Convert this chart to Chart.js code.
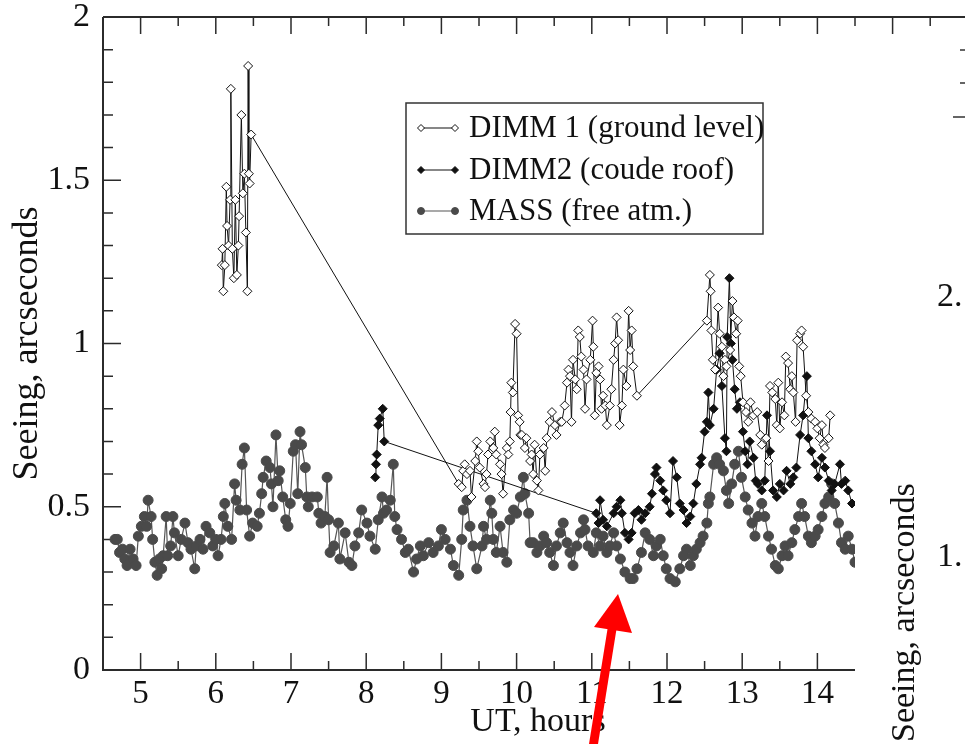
<!DOCTYPE html>
<html>
<head>
<meta charset="utf-8">
<script src="https://cdn.jsdelivr.net/npm/chart.js@4/dist/chart.umd.min.js"></script>
<style>
body{margin:0;background:#fff;}
canvas{display:block;}
</style>
</head>
<body>
<canvas id="seeingChart" width="965" height="744"></canvas>
<script>

// tick labels
const xTicks = [5,6,7,8,9,10,11,12,13,14];
const yTicks = [0,0.5,1,1.5,2];
const yTickLabels = ["0","0.5","1","1.5","2"];

const seriesNames = [
"DIMM 1 (ground level)",
"DIMM2 (coude roof)",
"MASS (free atm.)"
];

// DIMM 1, ground level (UT hours / arcsec)
const dimm1T = [
6.08,6.09,6.10,6.12,6.14,6.15,6.17,6.19,6.20,6.22,6.24,6.26,6.28,6.30,6.31,6.34,6.36,6.38,6.40,6.42,6.43,6.44,6.45,6.47,
9.23,9.27,9.29,9.31,9.34,9.38,9.40,9.45,9.47,9.49,9.51,9.56,9.58,9.60,9.62,9.65,9.69,9.71,9.73,9.78,9.80,9.82,9.87,9.89,9.91,9.92,9.93,9.95,9.98,10.00,
10.02,10.04,10.05,10.07,10.11,10.13,10.18,10.20,10.22,10.24,10.27,10.29,10.31,10.36,10.38,10.40,10.44,10.47,10.51,10.53,10.58,10.60,10.64,10.67,10.69,10.71,
10.73,10.75,10.78,10.80,10.82,10.84,10.86,10.89,10.91,10.93,10.98,11.01,11.02,11.04,11.06,11.09,11.11,11.13,11.15,11.18,11.20,11.24,11.26,11.29,11.31,11.33,
11.35,11.37,11.40,11.42,11.46,11.49,11.51,11.53,11.55,11.60,
12.53,12.57,12.58,12.59,12.61,12.64,12.68,12.70,12.73,12.75,12.77,12.79,12.84,12.87,12.89,12.92,12.94,12.96,12.98,13.01,13.05,13.08,13.11,13.15,13.20,
13.24,13.26,13.32,13.35,13.37,13.40,13.44,13.46,13.48,13.50,13.53,13.56,13.58,13.61,13.64,13.66,13.68,13.71,13.73,13.77,13.79,13.81,13.85,13.88,13.92,
13.97,14.00,14.03,14.06,14.08,14.10,14.15,14.17
];
const dimm1V = [
1.24,1.29,1.16,1.24,1.48,1.36,1.30,1.44,1.78,1.29,1.20,1.44,1.21,1.30,1.39,1.70,1.46,1.52,1.34,1.16,1.85,1.52,1.49,1.64,
0.57,0.56,0.61,0.63,0.60,0.61,0.53,0.64,0.70,0.67,0.62,0.57,0.56,0.60,0.66,0.70,0.68,0.73,0.66,0.63,0.60,0.54,0.68,0.66,0.70,0.79,0.88,0.85,1.06,1.03,
0.78,0.76,0.72,0.72,0.68,0.71,0.64,0.66,0.60,0.69,0.58,0.55,0.66,0.68,0.61,0.71,0.76,0.79,0.75,0.72,0.76,0.76,0.81,0.88,0.92,0.90,
0.76,0.95,0.89,0.86,1.04,1.02,0.96,0.92,0.80,0.89,0.95,1.07,0.99,0.78,0.91,0.93,0.89,0.80,0.84,0.81,0.75,0.81,0.86,0.95,1.00,1.08,
1.01,0.75,0.81,0.92,0.87,1.10,0.98,1.04,0.93,0.84,
1.07,1.21,1.16,1.04,0.95,0.92,1.11,1.03,0.99,0.90,0.95,0.93,0.98,1.13,1.08,1.03,1.07,0.93,0.90,0.82,0.79,0.76,0.82,0.78,0.79,
0.72,0.69,0.71,0.64,0.87,0.85,0.83,0.75,0.88,0.74,0.82,0.78,0.96,0.94,0.86,0.90,0.85,0.76,1.01,1.03,1.04,0.99,0.84,0.79,0.77,
0.76,0.74,0.71,0.75,0.69,0.68,0.71,0.78
];

// DIMM2, coude roof
const dimm2T = [
8.12,8.13,8.14,8.16,8.18,8.22,8.24,
11.06,11.09,11.11,11.15,11.20,11.29,11.33,11.38,11.40,11.44,11.49,11.53,11.57,11.62,11.66,11.71,11.77,11.80,11.84,11.86,11.91,11.95,11.99,
12.04,12.08,12.13,12.17,12.22,12.26,12.31,12.35,12.39,12.44,12.46,12.50,12.53,12.55,12.57,12.62,12.66,12.70,12.73,12.77,12.79,12.80,12.83,12.85,12.87,
12.90,12.93,12.97,13.01,13.04,13.07,13.10,13.15,13.18,13.21,13.26,13.30,13.33,13.37,13.41,13.46,13.50,13.55,13.59,13.64,13.68,13.72,13.77,13.81,13.86,
13.88,13.92,13.97,14.01,14.06,14.10,14.15,14.19,14.23,14.30,14.32,14.37,14.41,14.46
];
const dimm2V = [
0.59,0.63,0.66,0.75,0.77,0.80,0.70,
0.48,0.45,0.52,0.46,0.44,0.48,0.50,0.52,0.48,0.42,0.40,0.42,0.48,0.49,0.46,0.48,0.50,0.54,0.60,0.62,0.58,0.55,0.52,
0.48,0.64,0.59,0.51,0.49,0.45,0.47,0.51,0.57,0.63,0.65,0.73,0.76,0.85,0.75,0.80,0.92,0.97,0.87,0.71,0.67,1.02,1.20,1.00,0.95,
0.86,0.80,0.82,0.73,0.67,0.63,0.70,0.65,0.58,0.57,0.55,0.58,0.78,0.67,0.55,0.53,0.57,0.55,0.61,0.57,0.59,0.62,0.72,0.78,0.90,
0.71,0.67,0.63,0.59,0.65,0.62,0.58,0.55,0.57,0.63,0.57,0.58,0.55,0.51
];

// MASS, free atmosphere
const massT = [
4.66,4.69,4.72,4.76,4.79,4.82,4.86,4.90,4.94,4.97,5.01,5.05,5.08,5.10,5.14,5.16,5.19,5.22,5.25,5.28,5.30,5.34,5.36,5.40,5.43,5.45,5.50,5.54,5.59,5.63,
5.67,5.72,5.74,5.79,5.83,5.87,5.92,5.96,6.00,6.03,6.07,6.10,6.12,6.16,6.21,6.25,6.27,6.32,6.35,6.38,6.41,6.45,6.49,6.55,6.58,6.61,6.63,6.67,6.72,6.74,
6.76,6.80,6.83,6.85,6.89,6.93,6.96,6.99,7.03,7.06,7.09,7.12,7.14,7.19,7.21,7.23,7.28,7.35,7.37,7.40,7.45,7.48,7.50,7.52,7.57,7.63,7.65,7.72,7.77,7.81,
7.85,7.90,7.94,8.01,8.05,8.12,8.16,8.21,8.23,8.27,8.32,8.36,8.38,8.41,8.47,8.52,8.56,8.63,8.67,8.72,8.76,8.83,8.89,8.96,9.00,9.05,9.12,9.16,9.23,9.27,
9.29,9.34,9.38,9.42,9.47,9.54,9.56,9.60,9.65,9.67,9.69,9.73,9.78,9.82,9.87,9.91,9.96,10.00,10.05,10.09,10.11,10.16,10.18,10.22,10.27,10.31,10.36,10.40,10.44,10.49,
10.53,10.58,10.62,10.67,10.71,10.75,10.80,10.85,10.89,10.91,10.95,11.02,11.06,11.11,11.15,11.20,11.24,11.29,11.33,11.38,11.44,11.51,11.55,11.60,11.66,11.71,11.77,11.82,11.86,11.91,
11.95,11.99,12.04,12.11,12.17,12.22,12.26,12.31,12.35,12.39,12.44,12.48,12.53,12.55,12.57,12.62,12.66,12.70,12.75,12.79,12.82,12.86,12.90,12.95,12.99,13.04,13.08,13.13,13.17,13.21,
13.26,13.30,13.35,13.39,13.44,13.48,13.53,13.57,13.61,13.66,13.70,13.75,13.79,13.83,13.88,13.92,13.97,14.01,14.06,14.10,14.15,14.19,14.23,14.28,14.32,14.37,14.41,14.46,14.50
];
const massV = [
0.40,0.40,0.36,0.37,0.34,0.32,0.37,0.34,0.32,0.41,0.44,0.47,0.44,0.52,0.47,0.40,0.33,0.29,0.34,0.31,0.35,0.47,0.35,0.38,0.47,0.42,0.35,0.40,0.45,0.39,
0.37,0.31,0.38,0.40,0.37,0.44,0.42,0.38,0.40,0.35,0.40,0.47,0.51,0.44,0.40,0.57,0.52,0.49,0.63,0.68,0.49,0.41,0.45,0.44,0.48,0.54,0.59,0.64,0.62,0.57,
0.50,0.72,0.58,0.61,0.53,0.46,0.44,0.51,0.67,0.69,0.54,0.73,0.69,0.62,0.53,0.50,0.53,0.53,0.48,0.45,0.47,0.59,0.46,0.36,0.38,0.45,0.34,0.42,0.33,0.32,
0.38,0.42,0.49,0.45,0.41,0.37,0.46,0.53,0.48,0.49,0.52,0.63,0.47,0.43,0.40,0.36,0.37,0.30,0.34,0.38,0.35,0.39,0.36,0.38,0.43,0.40,0.37,0.32,0.29,0.40,
0.49,0.52,0.44,0.38,0.31,0.38,0.44,0.40,0.52,0.48,0.40,0.36,0.44,0.36,0.33,0.46,0.49,0.48,0.53,0.59,0.54,0.48,0.39,0.39,0.36,0.38,0.41,0.39,0.36,0.32,
0.38,0.42,0.45,0.39,0.36,0.32,0.38,0.42,0.46,0.43,0.38,0.36,0.42,0.38,0.41,0.36,0.38,0.42,0.38,0.34,0.30,0.28,0.28,0.31,0.36,0.42,0.40,0.35,0.38,0.40,
0.35,0.31,0.28,0.27,0.31,0.35,0.37,0.32,0.35,0.37,0.39,0.41,0.45,0.51,0.53,0.63,0.65,0.63,0.61,0.55,0.51,0.57,0.63,0.67,0.59,0.53,0.49,0.45,0.41,0.47,
0.51,0.47,0.41,0.37,0.32,0.31,0.35,0.38,0.35,0.39,0.43,0.47,0.51,0.47,0.41,0.39,0.41,0.43,0.47,0.51,0.53,0.57,0.51,0.45,0.39,0.37,0.41,0.37,0.33
];

const serif = "'Liberation Serif', 'DejaVu Serif', serif";

function pts(t, v){
return t.map((x,i)=>({x:x,y:v[i]}));
}

// axes frame, inward ticks, legend box and the extra marks round the figure
const decor = {

id:"decor",

beforeDatasetsDraw(chart){

const ctx = chart.ctx;
const a = chart.chartArea;
const xs = chart.scales.x;
const ys = chart.scales.y;

ctx.save();
ctx.strokeStyle = "#2b2b2b";
ctx.lineWidth = 2;
ctx.beginPath();
ctx.moveTo(a.left, a.top);
ctx.lineTo(a.left, a.bottom);
ctx.lineTo(a.right, a.bottom);
ctx.moveTo(a.left, a.top);
ctx.lineTo(chart.width, a.top);
ctx.stroke();

ctx.lineWidth = 1.5;
ctx.beginPath();
for(let v = 5; v <= 15.5; v += 0.5){
const px = xs.getPixelForValue(v);
const len = v % 1 === 0 ? 17 : 9;
if(v < 14.5){
ctx.moveTo(px, a.bottom);
ctx.lineTo(px, a.bottom - len);
}
ctx.moveTo(px, a.top);
ctx.lineTo(px, a.top + len);
}
for(let i = 1; i < 20; i++){
const py = ys.getPixelForValue(i / 10);
const len = i % 5 === 0 ? 18 : 10;
ctx.moveTo(a.left, py);
ctx.lineTo(a.left + len, py);
}
ctx.stroke();
ctx.restore();

},

afterDraw(chart){

const ctx = chart.ctx;
ctx.save();

// x axis title
ctx.fillStyle = "#111";
ctx.font = "34px " + serif;
ctx.textAlign = "center";
ctx.textBaseline = "middle";
ctx.fillText("UT, hours", 538, 722);

// legend
ctx.fillStyle = "#fff";
ctx.fillRect(406, 103, 357, 131);
ctx.strokeStyle = "#333";
ctx.lineWidth = 1.5;
ctx.strokeRect(406, 103, 357, 131);

const rows = [128, 170, 211];
chart.data.datasets.forEach((ds, i)=>{
const y = rows[i];
ctx.strokeStyle = ds.borderColor;
ctx.lineWidth = 1.2;
ctx.beginPath();
ctx.moveTo(421, y);
ctx.lineTo(455, y);
ctx.stroke();
[421, 455].forEach(x=>{
ctx.fillStyle = ds.pointBackgroundColor;
ctx.strokeStyle = ds.pointBorderColor;
ctx.lineWidth = 1;
Chart.helpers.drawPoint(ctx, {pointStyle: ds.pointStyle, radius: 3.5, rotation: 0, borderWidth: 1}, x, y);
});
ctx.fillStyle = "#111";
ctx.font = "31px " + serif;
ctx.textAlign = "left";
ctx.fillText(ds.label, 469, y + 1);
});

// neighbouring panel, cut by the right edge
ctx.fillStyle = "#111";
ctx.font = "34px " + serif;
ctx.textAlign = "left";
ctx.fillText("2.", 937, 297);
ctx.fillText("1.", 937, 557);
ctx.save();
ctx.translate(914, 742);
ctx.rotate(-Math.PI / 2);
ctx.textBaseline = "alphabetic";
ctx.fillText("Seeing, arcseconds", 0, 0);
ctx.restore();
ctx.strokeStyle = "#333";
ctx.lineWidth = 1.5;
ctx.beginPath();
ctx.moveTo(960, 50); ctx.lineTo(965, 50);
ctx.moveTo(960, 83); ctx.lineTo(965, 83);
ctx.moveTo(953, 117); ctx.lineTo(965, 117);
ctx.stroke();

// red arrow
ctx.fillStyle = "#ff0000";
ctx.beginPath();
ctx.moveTo(589, 744);
ctx.lineTo(598, 744);
ctx.lineTo(617, 626);
ctx.lineTo(608, 626);
ctx.closePath();
ctx.fill();
ctx.beginPath();
ctx.moveTo(618, 594);
ctx.lineTo(594, 627);
ctx.lineTo(632, 633);
ctx.closePath();
ctx.fill();

ctx.restore();

}

};

const canvas =
document.getElementById("seeingChart");

new Chart(canvas,{

type:"line",

data:{

datasets:[{
label: seriesNames[0],
data: pts(dimm1T, dimm1V),
borderColor: "#111",
borderWidth: 1,
pointStyle: "rectRot",
pointRadius: 4.5,
pointBackgroundColor: "#fff",
pointBorderColor: "#111",
pointBorderWidth: 1,
order: 0
},{
label: seriesNames[1],
data: pts(dimm2T, dimm2V),
borderColor: "#111",
borderWidth: 1,
pointStyle: "rectRot",
pointRadius: 4.5,
pointBackgroundColor: "#111",
pointBorderColor: "#111",
pointBorderWidth: 1,
order: 1
},{
label: seriesNames[2],
data: pts(massT, massV),
borderColor: "#555",
borderWidth: 1.2,
pointStyle: "circle",
pointRadius: 5,
pointBackgroundColor: "#4a4a4a",
pointBorderColor: "#4a4a4a",
pointBorderWidth: 1,
order: 2
}]

},

options:{

responsive:false,
animation:false,
devicePixelRatio:1,

layout:{
padding:{left:0, top:17, right:110, bottom:0}
},

plugins:{
legend:{display:false},
tooltip:{enabled:false}
},

elements:{
line:{tension:0}
},

scales:{

x:{
type:"linear",
min:4.5,
max:14.5,
afterBuildTicks:(s)=>{ s.ticks = xTicks.map(v=>({value:v})); },
afterFit:(s)=>{ s.height = 74; s.paddingLeft = 0; s.paddingRight = 0; },
grid:{display:false, drawTicks:false},
border:{display:false},
ticks:{
color:"#111",
padding:5,
font:{family:serif, size:33},
maxRotation:0,
autoSkip:false
}
},

y:{
type:"linear",
min:0,
max:2,
afterBuildTicks:(s)=>{ s.ticks = yTicks.map(v=>({value:v})); },
afterFit:(s)=>{ s.width = 103; s.paddingTop = 0; s.paddingBottom = 0; },
grid:{display:false, drawTicks:false},
border:{display:false},
ticks:{
color:"#111",
padding:13,
font:{family:serif, size:34},
autoSkip:false,
callback:(v)=>yTickLabels[yTicks.indexOf(v)]
},
title:{
display:true,
text:"Seeing, arcseconds",
color:"#111",
font:{family:serif, size:36},
padding:{top:6, bottom:0}
}
}

}

},

plugins:[decor]

});

</script>
</body>
</html>
